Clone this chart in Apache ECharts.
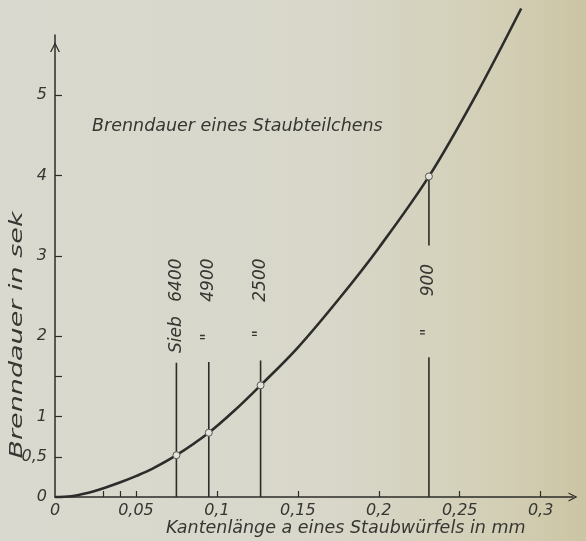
<!DOCTYPE html>
<html>
<head>
<meta charset="utf-8">
<script src="https://cdn.jsdelivr.net/npm/echarts@6/dist/echarts.min.js"></script>
<style>
  html, body { margin: 0; padding: 0; }
  #chart { width: 586px; height: 541px;
    background: linear-gradient(to right, #d9d9cf 0%, #d8d7ca 55%, #d3cfb6 85%, #ccc5a3 100%); }
</style>
</head>
<body>
<div id="chart"></div>
<script>
// Curve: Brenndauer (s) vs Kantenlänge a (mm)
const curveA = [0, 0.01, 0.02, 0.03, 0.04, 0.05, 0.06, 0.075, 0.095, 0.11, 0.127, 0.15, 0.176, 0.2, 0.231, 0.26, 0.288];
const curveT = [0, 0.01, 0.05, 0.11, 0.18, 0.26, 0.35, 0.52, 0.80, 1.06, 1.39, 1.86, 2.48, 3.10, 3.99, 5.00, 6.08];

// Sieve markers
const sieveA = [0.075, 0.095, 0.127, 0.231];
const sieveT = [0.52, 0.80, 1.39, 3.99];
const sievePrefix = ['Sieb', '"', '"', '"'];
const sieveMesh = ['6400', '4900', '2500', '900'];
const sieveLineTop = [1.67, 1.68, 1.70, 1.74];
const sieveUpperStart = [null, null, null, 3.13];
const prefixPos = [2.02, 1.99, 2.03, 2.05];
const meshPos = [2.70, 2.70, 2.70, 2.70];

// Axis ticks / labels
const xTicks = [0.03, 0.04, 0.05, 0.1, 0.15, 0.2, 0.25, 0.3];
const xLabels = [0, 0.05, 0.1, 0.15, 0.2, 0.25, 0.3];
const yTicks = [0.5, 1, 1.5, 2, 3, 4, 5];
const yLabels = [0, 0.5, 1, 2, 3, 4, 5];

const titleText = 'Brenndauer eines Staubteilchens';
const xName = 'Kantenlänge a eines Staubwürfels in mm';
const yName = 'Brenndauer in sek';

const INK = '#2c2c2a';
const TXT = '#363632';
const FONT = '"DejaVu Sans", sans-serif';
const fmt = v => String(v).replace('.', ',');

const chart = echarts.init(document.getElementById('chart'), null, { renderer: 'canvas' });

const segSeries = [];
sieveA.forEach((a, i) => {
  segSeries.push({
    type: 'line', data: [[a, 0], [a, sieveLineTop[i]]], symbol: 'none',
    lineStyle: { color: INK, width: 1.6 }, silent: true, z: 2
  });
  if (sieveUpperStart[i] !== null) {
    segSeries.push({
      type: 'line', data: [[a, sieveUpperStart[i]], [a, sieveT[i]]], symbol: 'none',
      lineStyle: { color: INK, width: 1.6 }, silent: true, z: 2
    });
  }
});

const labelData = [];
sieveA.forEach((a, i) => {
  labelData.push([a, prefixPos[i], sievePrefix[i]]);
  labelData.push([a, meshPos[i], sieveMesh[i]]);
});

const chevronUp = 'path://M0,10 L5,0 L10,10 L8.6,10 L5,2.8 L1.4,10 Z';

chart.setOption({
  backgroundColor: 'transparent',
  animation: false,
  title: {
    text: titleText, left: 87, top: 112,
    textStyle: { fontFamily: FONT, fontStyle: 'italic', fontWeight: 'normal', fontSize: 17.5, color: TXT }
  },
  grid: { left: 55, right: 13, top: 35, bottom: 44, containLabel: false },
  xAxis: {
    type: 'value', min: 0, max: 0.32,
    axisLine: { show: true, lineStyle: { color: INK, width: 1.5 },
      symbol: ['none', chevronUp], symbolSize: [9, 9], symbolOffset: [0, 0] },
    axisTick: { show: true, inside: true, length: 6, customValues: xTicks, lineStyle: { color: INK, width: 1.2 } },
    axisLabel: { customValues: xLabels, formatter: v => fmt(v), margin: 6,
      fontFamily: FONT, fontStyle: 'italic', fontSize: 16, color: TXT },
    splitLine: { show: false }
  },
  yAxis: {
    type: 'value', min: 0, max: 5.75,
    axisLine: { show: true, lineStyle: { color: INK, width: 1.5 },
      symbol: ['none', chevronUp], symbolSize: [10, 12], symbolOffset: [0, -12] },
    axisTick: { show: true, inside: true, length: 7, customValues: yTicks, lineStyle: { color: INK, width: 1.2 } },
    axisLabel: { customValues: yLabels, formatter: v => fmt(v), margin: 8,
      fontFamily: FONT, fontStyle: 'italic', fontSize: 16, color: TXT },
    splitLine: { show: false }
  },
  graphic: [
    {
      type: 'text', x: 17, y: 335, rotation: Math.PI / 2, scaleX: 1.5, scaleY: 1,
      style: { text: yName, font: 'italic 18px ' + FONT, fill: TXT, align: 'center', verticalAlign: 'middle' }
    },
    {
      type: 'text', left: 166, top: 519,
      style: { text: xName, font: 'italic 17.5px ' + FONT, fill: TXT }
    }
  ],
  series: [
    ...segSeries,
    {
      type: 'line', data: curveA.map((a, i) => [a, curveT[i]]), smooth: 0.35,
      showSymbol: false, symbol: 'none', clip: false,
      lineStyle: { color: INK, width: 2.6 }, z: 3, silent: true
    },
    {
      type: 'scatter', data: sieveA.map((a, i) => [a, sieveT[i]]), symbol: 'circle', symbolSize: 7,
      itemStyle: { color: '#e4e3da', borderColor: '#555', borderWidth: 1, opacity: 1 }, z: 4, silent: true
    },
    {
      type: 'scatter', data: labelData, symbolSize: 1, itemStyle: { color: 'rgba(0,0,0,0)', opacity: 1 }, silent: true, z: 5,
      label: { show: true, position: 'inside', rotate: 90, formatter: p => p.data[2],
        fontFamily: FONT, fontStyle: 'italic', fontSize: 17, color: TXT, opacity: 1,
        align: 'center', verticalAlign: 'middle' }
    }
  ]
});
</script>
</body>
</html>
